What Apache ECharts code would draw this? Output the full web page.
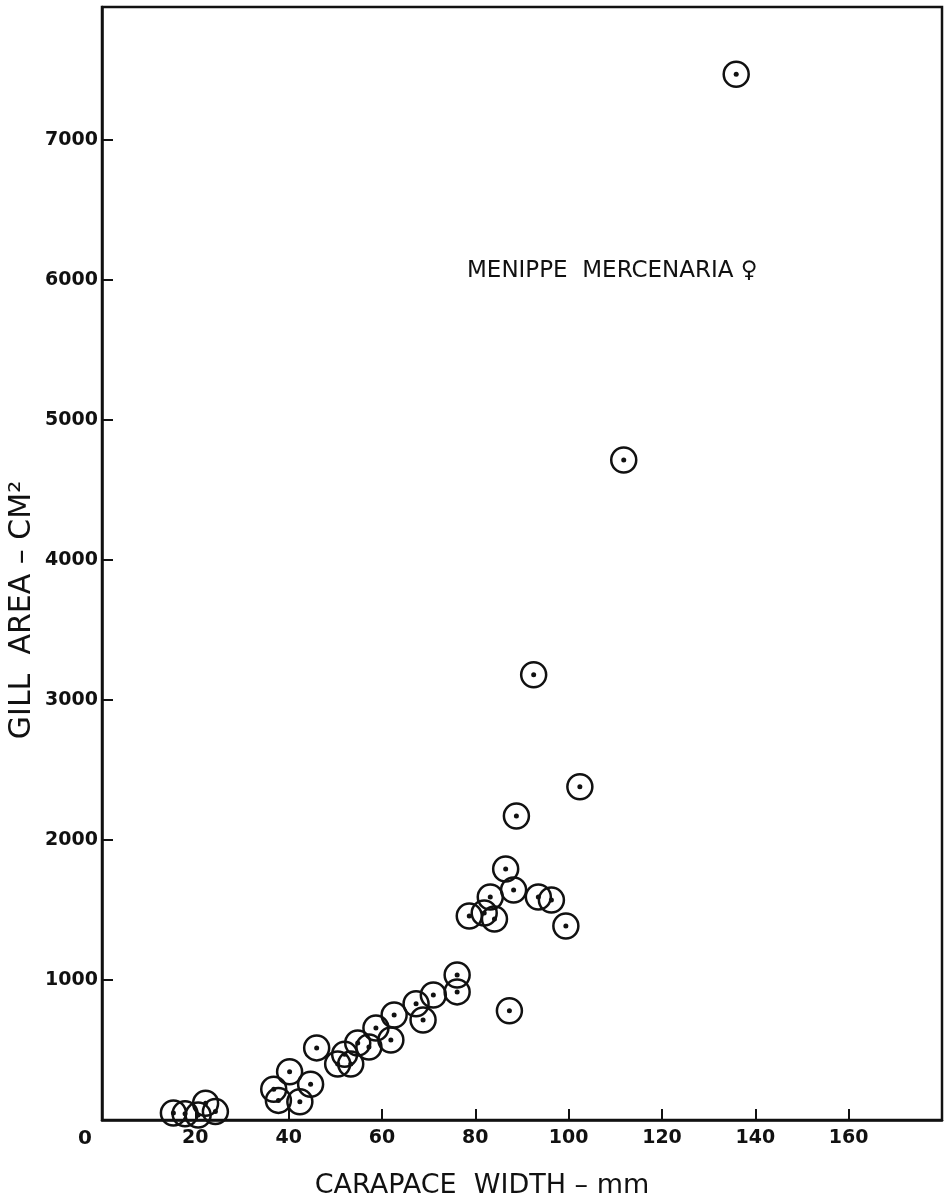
<!DOCTYPE html>
<html>
<head>
<meta charset="utf-8">
<title>Menippe mercenaria – gill area vs carapace width</title>
<script src="https://cdn.jsdelivr.net/npm/echarts@6/dist/echarts.min.js"></script>
<style>
  html, body { margin: 0; padding: 0; background: #ffffff; }
  #chart { width: 950px; height: 1200px; }
</style>
</head>
<body>
<div id="chart"></div>
<script>
// Carapace width (mm) and gill area (cm²) of individual females
const carapaceWidth = [15.3, 17.8, 20.6, 22.2, 24.3, 36.8, 37.8, 40.2, 42.4, 44.7,
  46.0, 50.5, 52.0, 53.3, 54.8, 57.2, 58.7, 61.9, 62.6, 67.3,
  68.8, 71.0, 76.1, 76.1, 78.7, 81.9, 83.2, 84.1, 86.5, 87.3,
  88.2, 88.8, 92.5, 93.5, 96.3, 99.4, 102.4, 111.8, 135.9];
const gillArea = [50, 45, 35, 120, 60, 220, 140, 345, 130, 255,
  515, 400, 470, 400, 550, 521, 657, 571, 750, 830,
  714, 893, 1036, 915, 1457, 1479, 1593, 1436, 1793, 780,
  1643, 2171, 3180, 1593, 1571, 1386, 2380, 4714, 7470];

const xTicks = [0, 20, 40, 60, 80, 100, 120, 140, 160];
const yTicks = [1000, 2000, 3000, 4000, 5000, 6000, 7000];

const xTitle = 'CARAPACE  WIDTH – mm';
const yTitle = 'GILL  AREA – CM²';
const speciesLabel = 'MENIPPE  MERCENARIA ♀';

const points = carapaceWidth.map((w, i) => [w, gillArea[i]]);

const ink = '#111111';
const labelFont = 'DejaVu Sans';

const chart = echarts.init(document.getElementById('chart'), null, { renderer: 'canvas' });

chart.setOption({
  backgroundColor: '#ffffff',
  animation: false,
  grid: {
    left: 102, right: 8, top: 7, bottom: 80,
    show: true, borderColor: ink, borderWidth: 2.5, backgroundColor: 'transparent'
  },
  xAxis: {
    type: 'value',
    min: 0, max: 180, interval: 20,
    axisLine: { show: true, onZero: false, lineStyle: { color: ink, width: 2.5 } },
    axisTick: { show: true, inside: true, length: 11, lineStyle: { color: ink, width: 2 } },
    splitLine: { show: false },
    axisLabel: {
      margin: 9,
      color: ink,
      fontFamily: labelFont, fontWeight: 'bold', fontSize: 19,
      formatter: v => (v === 0 ? '{z|0}' : (xTicks.indexOf(v) >= 0 ? String(v) : '')),
      rich: { z: { padding: [0, 34, 0, 0], fontFamily: labelFont, fontSize: 20, color: ink } }
    }
  },
  yAxis: {
    type: 'value',
    min: 0, max: 7950, interval: 1000,
    axisLine: { show: true, onZero: false, lineStyle: { color: ink, width: 2.5 } },
    axisTick: { show: true, inside: true, length: 11, lineStyle: { color: ink, width: 2 } },
    splitLine: { show: false },
    axisLabel: {
      margin: 4,
      color: ink,
      fontFamily: labelFont, fontWeight: 'bold', fontSize: 19,
      formatter: v => (yTicks.indexOf(v) >= 0 ? String(v) : '')
    }
  },
  series: [
    {
      name: 'ring',
      type: 'scatter',
      data: points,
      symbol: 'circle',
      symbolSize: 25,
      itemStyle: { color: 'rgba(0,0,0,0)', borderColor: ink, borderWidth: 2.5, opacity: 1 },
      emphasis: { disabled: true },
      z: 2
    },
    {
      name: 'centre',
      type: 'scatter',
      data: points,
      symbol: 'circle',
      symbolSize: 5,
      itemStyle: { color: ink, opacity: 1 },
      emphasis: { disabled: true },
      z: 3
    }
  ],
  graphic: [
    {
      type: 'text',
      x: 482, y: 1186,
      style: {
        text: xTitle, fill: ink,
        font: '27px "DejaVu Sans"',
        textAlign: 'center', textVerticalAlign: 'middle'
      }
    },
    {
      type: 'text',
      x: 22, y: 610,
      rotation: Math.PI / 2,
      style: {
        text: yTitle, fill: ink,
        font: '30px "DejaVu Sans"',
        textAlign: 'center', textVerticalAlign: 'middle'
      }
    },
    {
      type: 'text',
      x: 467, y: 271,
      style: {
        text: speciesLabel, fill: ink,
        font: '23px "DejaVu Sans"',
        textAlign: 'left', textVerticalAlign: 'middle'
      }
    }
  ]
});
</script>
</body>
</html>
